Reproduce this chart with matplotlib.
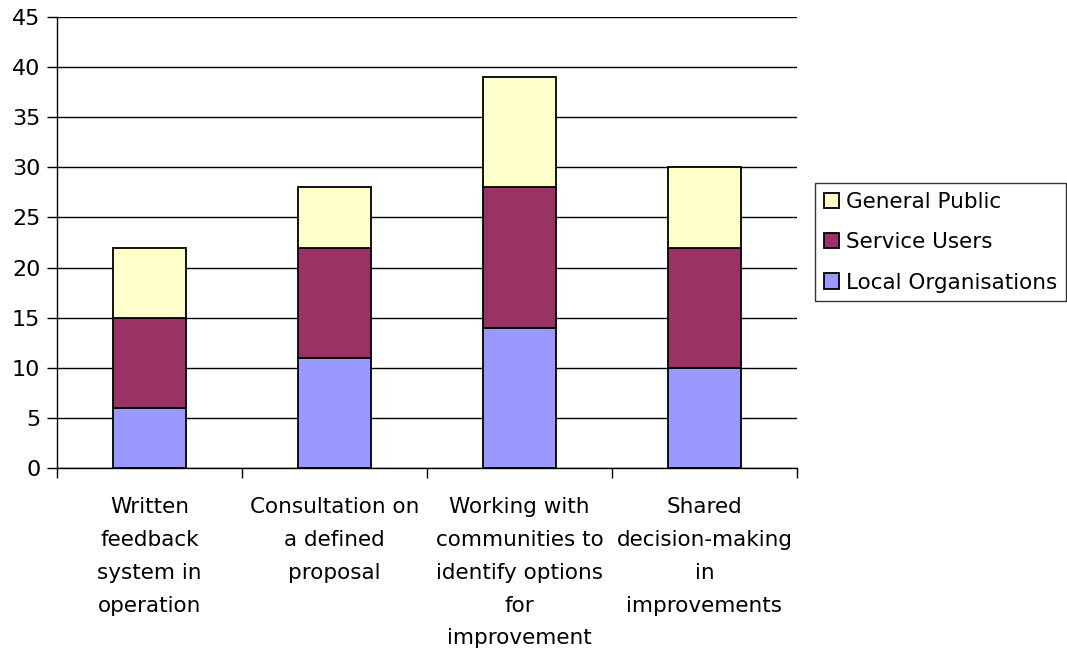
import matplotlib
matplotlib.use("Agg")
import matplotlib.pyplot as plt
import numpy as np

categories = [
    "Written\nfeedback\nsystem in\noperation",
    "Consultation on\na defined\nproposal",
    "Working with\ncommunities to\nidentify options\nfor\nimprovement",
    "Shared\ndecision-making\nin\nimprovements",
]
local_orgs = [6, 11, 14, 10]
service_users = [9, 11, 14, 12]
general_public = [7, 6, 11, 8]

colors = {"Local Organisations": "#9999FF",
          "Service Users": "#993366",
          "General Public": "#FFFFCC"}

plt.rcParams["font.family"] = ["DejaVu Sans"]
fig = plt.figure(figsize=(10.67, 6.52), dpi=100)
ax = fig.add_axes([57 / 1067, 1 - 468 / 652, 740 / 1067, 451 / 652])

x = np.arange(len(categories))
w = 0.395
lo = ax.bar(x, local_orgs, w, color=colors["Local Organisations"], edgecolor="black", linewidth=1.3, zorder=3)
b2 = np.array(local_orgs)
su = ax.bar(x, service_users, w, bottom=b2, color=colors["Service Users"], edgecolor="black", linewidth=1.3, zorder=3)
b3 = b2 + np.array(service_users)
gp = ax.bar(x, general_public, w, bottom=b3, color=colors["General Public"], edgecolor="black", linewidth=1.3, zorder=3)

ax.set_xlim(-0.5, len(categories) - 0.5)
ax.set_ylim(0, 45)
ax.set_yticks(range(0, 46, 5))
ax.yaxis.grid(True, color="black", linewidth=1.0, zorder=0)
ax.set_axisbelow(True)

for s in ("top", "right"):
    ax.spines[s].set_visible(False)
ax.spines["left"].set_linewidth(1.0)
ax.spines["bottom"].set_linewidth(1.0)

ax.tick_params(axis="y", length=7, width=1.0, labelsize=16, pad=5)
ax.set_xticks(np.arange(-0.5, len(categories), 1.0))
ax.set_xticklabels([])
ax.tick_params(axis="x", length=7, width=1.0, direction="out")
ax.set_xticks(x, minor=True)
ax.set_xticklabels(categories, minor=True, fontsize=15.5, linespacing=1.8, va="top")
ax.tick_params(axis="x", which="minor", length=0, pad=21)

handles = [gp, su, lo]
labels = ["General Public", "Service Users", "Local Organisations"]
leg = fig.legend(handles, labels, loc="upper left",
                 bbox_to_anchor=(815 / 1067, 1 - 183 / 652),
                 fontsize=15.5, frameon=True, fancybox=False, edgecolor="black",
                 handlelength=0.7, handleheight=0.7, handletextpad=0.35,
                 labelspacing=0.95, borderpad=0.4, borderaxespad=0)
leg.get_frame().set_linewidth(1.0)

fig.savefig("out.png", dpi=100)
